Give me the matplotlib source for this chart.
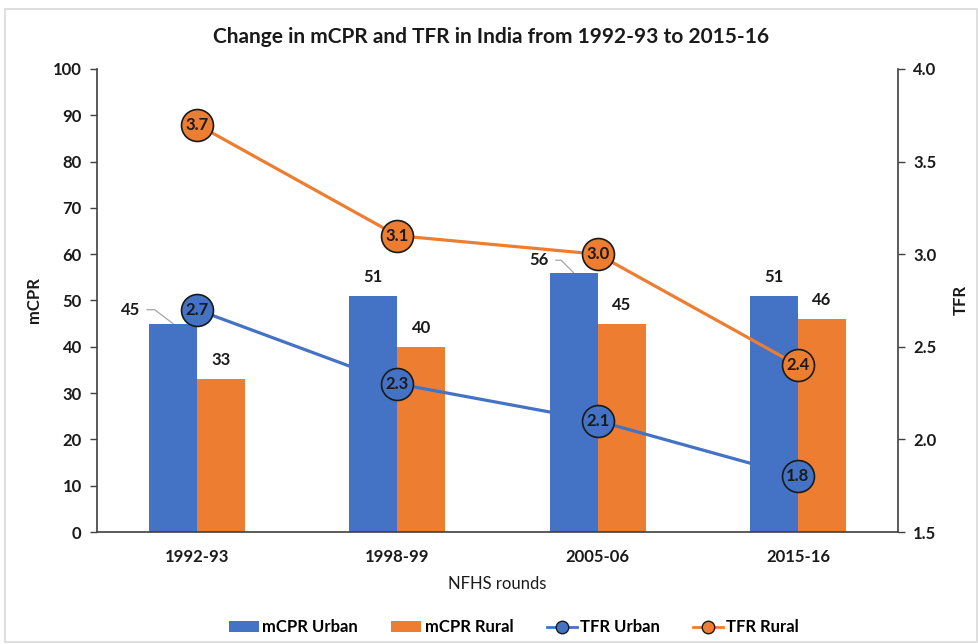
import numpy as np
import matplotlib.pyplot as plt
from matplotlib.lines import Line2D
from matplotlib.patches import Patch, Rectangle

plt.rcParams["font.family"] = ["Lato", "DejaVu Sans"]
plt.rcParams["font.weight"] = "bold"

rounds = ["1992-93", "1998-99", "2005-06", "2015-16"]
mcpr_urban = [45, 51, 56, 51]
mcpr_rural = [33, 40, 45, 46]
tfr_urban = [2.7, 2.3, 2.1, 1.8]
tfr_rural = [3.7, 3.1, 3.0, 2.4]

BLUE = "#4472C4"
ORANGE = "#ED7D31"
TEXT = "#1a1a1a"


def main():
    fig = plt.figure(figsize=(9.79, 6.44), dpi=100)
    fig.patches.append(Rectangle((0.005, 0.003), 0.993, 0.983, transform=fig.transFigure,
                                 fill=False, edgecolor="#d9d9d9", linewidth=1.2))
    ax = fig.add_axes([0.0991, 0.1739, 0.8182, 0.719])
    x = np.arange(len(rounds))
    w = 0.24

    ax.bar(x - w / 2, mcpr_urban, w, color=BLUE, zorder=2)
    ax.bar(x + w / 2, mcpr_rural, w, color=ORANGE, zorder=2)

    ax.set_xlim(-0.5, 3.5)
    ax.set_ylim(0, 100)
    ax.set_yticks(range(0, 101, 10))
    ax.set_xticks(x)
    ax.set_xticklabels(rounds)
    ax.tick_params(axis="x", length=0, pad=12, labelsize=12, colors=TEXT)
    ax.tick_params(axis="y", length=5, width=1, color="#404040", labelsize=12, colors=TEXT, pad=6)
    for s in ["left", "bottom"]:
        ax.spines[s].set_color("#404040")
        ax.spines[s].set_linewidth(1.2)
    ax.spines["top"].set_visible(False)
    ax.spines["right"].set_visible(False)
    ax.set_ylabel("mCPR", fontsize=12, color=TEXT, labelpad=8, fontweight="bold")
    ax.set_xlabel("NFHS rounds", fontsize=12, color=TEXT, labelpad=8, fontweight="normal")

    # bar labels, two of them pushed aside by the TFR markers
    offsets = {0: ((-24, 10), 143), 2: ((-18, 9), 135)}
    for i, v in enumerate(mcpr_urban):
        if i in offsets:
            off, ang = offsets[i]
            ax.annotate(str(v), xy=(i - w / 2, v), xytext=off, textcoords="offset points",
                        ha="right", va="center", fontsize=12, color=TEXT,
                        arrowprops=dict(arrowstyle="-", color="#a6a6a6", lw=0.9,
                                        shrinkA=3, shrinkB=0,
                                        connectionstyle=f"angle,angleA=0,angleB={ang},rad=0"))
        else:
            ax.annotate(str(v), xy=(i - w / 2, v), xytext=(0, 8), textcoords="offset points",
                        ha="center", va="bottom", fontsize=12, color=TEXT)
    for i, v in enumerate(mcpr_rural):
        ax.annotate(str(v), xy=(i + w / 2, v), xytext=(0, 8), textcoords="offset points",
                    ha="center", va="bottom", fontsize=12, color=TEXT)

    ax2 = ax.twinx()
    ax2.set_ylim(1.5, 4.0)
    ax2.set_yticks([1.5, 2.0, 2.5, 3.0, 3.5, 4.0])
    ax2.set_yticklabels([f"{t:.1f}" for t in [1.5, 2.0, 2.5, 3.0, 3.5, 4.0]])
    ax2.tick_params(axis="y", length=5, width=1, color="#404040", labelsize=12, colors=TEXT, pad=6)
    for s in ["top", "left", "bottom"]:
        ax2.spines[s].set_visible(False)
    ax2.spines["right"].set_color("#404040")
    ax2.spines["right"].set_linewidth(1.2)
    ax2.set_ylabel("TFR", fontsize=12, color=TEXT, labelpad=12, fontweight="bold")

    for vals, col in [(tfr_urban, BLUE), (tfr_rural, ORANGE)]:
        ax2.plot(x, vals, color=col, lw=2.3, marker="o", markersize=23,
                 markerfacecolor=col, markeredgecolor="#1a1a1a", markeredgewidth=1.2, zorder=3)
        for xi, v in zip(x, vals):
            ax2.text(xi, v, f"{v:.1f}", ha="center", va="center", fontsize=12,
                     color=TEXT, zorder=4)

    fig.text(0.502, 0.942, "Change in mCPR and TFR in India from 1992-93 to 2015-16",
             ha="center", va="center", fontsize=15, color=TEXT, fontweight="bold")

    handles = [
        Patch(facecolor=BLUE, label="mCPR Urban"),
        Patch(facecolor=ORANGE, label="mCPR Rural"),
        Line2D([0], [0], color=BLUE, lw=2, marker="o", markersize=9,
               markerfacecolor=BLUE, markeredgecolor="#1a1a1a", label="TFR Urban"),
        Line2D([0], [0], color=ORANGE, lw=2, marker="o", markersize=9,
               markerfacecolor=ORANGE, markeredgecolor="#1a1a1a", label="TFR Rural"),
    ]
    fig.legend(handles=handles, loc="center", bbox_to_anchor=(0.525, 0.026), ncol=4,
               frameon=False, handlelength=1.8, handleheight=0.6, handletextpad=0.2,
               columnspacing=2.0, prop={"weight": "bold", "size": 12})

    fig.savefig("out.png", dpi=100)


if __name__ == "__main__":
    main()
